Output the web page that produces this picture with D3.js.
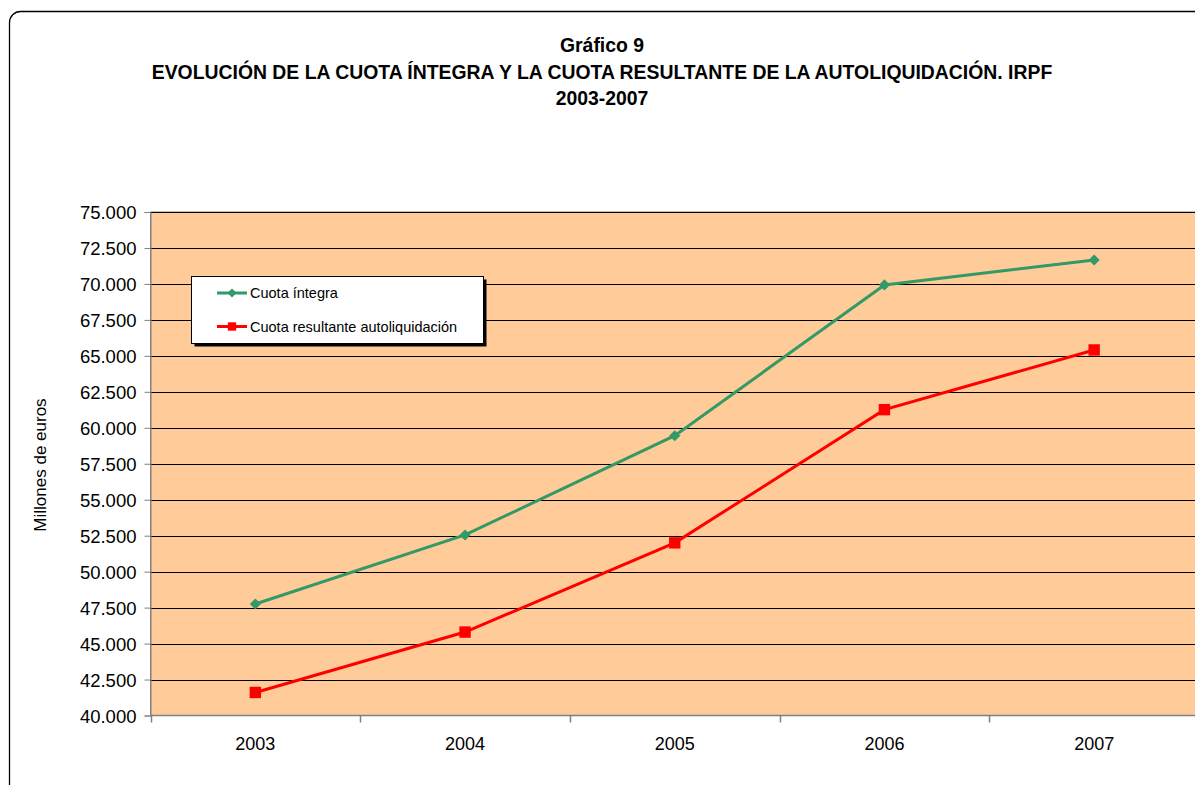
<!DOCTYPE html>
<html>
<head>
<meta charset="utf-8">
<script src="https://cdn.jsdelivr.net/npm/d3@7"></script>
<style>
  body { margin: 0; background: #fff; overflow: hidden; }
  text { font-family: "Liberation Sans", Arial, sans-serif; fill: #000; }
</style>
</head>
<body>
<svg id="chart" width="1195" height="785"></svg>
<script>
// chart data
var years = ["2003", "2004", "2005", "2006", "2007"];
var cuotaIntegra = [47750, 52550, 59450, 69930, 71660];
var cuotaResultante = [41600, 45800, 52000, 61260, 65410];
var yTicks = [40000, 42500, 45000, 47500, 50000, 52500, 55000, 57500, 60000, 62500, 65000, 67500, 70000, 72500, 75000];
var titleLines = ["Gráfico 9", "EVOLUCIÓN DE LA CUOTA ÍNTEGRA Y LA CUOTA RESULTANTE DE LA AUTOLIQUIDACIÓN. IRPF", "2003-2007"];

var series = [
    {name: "Cuota íntegra", values: cuotaIntegra, color: "#339966", marker: "diamond"},
    {name: "Cuota resultante autoliquidación", values: cuotaResultante, color: "#ff0000", marker: "square"}
];

var svg = d3.select("#chart");

// outer frame
svg.append("rect")
    .attr("x", 9.5).attr("y", 11.5)
    .attr("width", 1220).attr("height", 800)
    .attr("rx", 11).attr("ry", 11)
    .style("fill", "none").style("stroke", "#000").style("stroke-width", 1.3);

// titles
svg.selectAll(".title").data(titleLines).enter().append("text")
    .classed("title", true)
    .attr("x", 602)
    .attr("y", function (d, i) { return 52 + i * 26.5; })
    .attr("text-anchor", "middle")
    .style("font-weight", "bold")
    .style("font-size", "19.4px")
    .text(function (d) { return d; });

var plot = {left: 150.5, top: 212, right: 1199, bottom: 715.5};

var x = d3.scaleBand().domain(years).range([plot.left, plot.right]);
var y = d3.scaleLinear().domain([40000, 75000]).range([plot.bottom, plot.top]);

// plot background
svg.append("rect")
    .attr("x", plot.left).attr("y", plot.top)
    .attr("width", plot.right - plot.left).attr("height", plot.bottom - plot.top)
    .style("fill", "#ffcc99")
    .style("stroke", "#808080");

// gridlines
svg.selectAll(".grid").data(yTicks.slice(1)).enter().append("line")
    .classed("grid", true)
    .attr("x1", plot.left).attr("x2", plot.right)
    .attr("y1", function (d) { return Math.round(y(d)) + 0.5; })
    .attr("y2", function (d) { return Math.round(y(d)) + 0.5; })
    .style("stroke", "#000").style("stroke-width", 1);

// y axis
var yAxis = d3.axisLeft(y).tickValues(yTicks)
    .tickFormat(function (d) { return d3.format(",.0f")(d).replace(",", "."); })
    .tickSize(6).tickPadding(8);
var gy = svg.append("g").attr("transform", "translate(" + plot.left + ",0)").call(yAxis);
gy.select(".domain").style("stroke", "#808080");
gy.selectAll(".tick line").style("stroke", "#808080");
gy.selectAll(".tick text").style("font-size", "18.5px").style("font-family", "Liberation Sans, Arial, sans-serif").attr("dy", "0.36em");

// x axis with ticks at category boundaries
var gx = svg.append("g").attr("transform", "translate(0," + plot.bottom + ")");
gx.append("line").attr("x1", plot.left).attr("x2", plot.right)
    .style("stroke", "#808080").style("stroke-width", 1.5);
gx.selectAll(".xtick").data(years).enter().append("line")
    .classed("xtick", true)
    .attr("x1", function (d) { return Math.round(x(d)) + 0.5; })
    .attr("x2", function (d) { return Math.round(x(d)) + 0.5; })
    .attr("y1", 0).attr("y2", 7)
    .style("stroke", "#808080").style("stroke-width", 1.5);
gx.selectAll(".xlab").data(years).enter().append("text")
    .classed("xlab", true)
    .attr("x", function (d) { return x(d) + x.bandwidth() / 2; })
    .attr("y", 34)
    .attr("text-anchor", "middle")
    .style("font-size", "18px")
    .text(function (d) { return d; });

// y axis title
svg.append("text")
    .attr("transform", "translate(46,465) rotate(-90)")
    .attr("text-anchor", "middle")
    .style("font-size", "17px")
    .text("Millones de euros");

// markers: diamond is a square turned 45 degrees
function marker(kind, big) {
    var size = kind == "diamond" ? (big ? 62 : 40) : (big ? 130 : 70);
    return d3.symbol().type(d3.symbolSquare).size(size)();
}
function rot(kind) { return kind == "diamond" ? " rotate(45)" : ""; }

// lines and markers
var line = d3.line()
    .x(function (d, i) { return x(years[i]) + x.bandwidth() / 2; })
    .y(function (d) { return y(d); });

series.forEach(function (s) {
    svg.append("path")
        .datum(s.values)
        .attr("d", line)
        .style("fill", "none")
        .style("stroke", s.color)
        .style("stroke-width", 3);

    svg.selectAll(".m-" + s.marker).data(s.values).enter().append("path")
        .classed("m-" + s.marker, true)
        .attr("d", marker(s.marker, true))
        .attr("transform", function (d, i) {
            return "translate(" + (x(years[i]) + x.bandwidth() / 2) + "," + y(d) + ")" + rot(s.marker);
        })
        .style("fill", s.color);
});

// legend
var lg = svg.append("g");
lg.append("rect")
    .attr("x", 194.5).attr("y", 279.5).attr("width", 292).attr("height", 67)
    .style("fill", "#000");
lg.append("rect")
    .attr("x", 191.5).attr("y", 276.5).attr("width", 292).attr("height", 67)
    .style("fill", "#fff").style("stroke", "#000").style("stroke-width", 1);

series.forEach(function (s, i) {
    var ly = 293 + i * 33.5;
    lg.append("line")
        .attr("x1", 217).attr("x2", 247).attr("y1", ly).attr("y2", ly)
        .style("stroke", s.color).style("stroke-width", 3);
    lg.append("path")
        .attr("d", marker(s.marker, false))
        .attr("transform", "translate(232," + ly + ")" + rot(s.marker))
        .style("fill", s.color);
    lg.append("text")
        .attr("x", 250).attr("y", ly + 5)
        .style("font-size", "14.5px")
        .text(s.name);
});
</script>
</body>
</html>
